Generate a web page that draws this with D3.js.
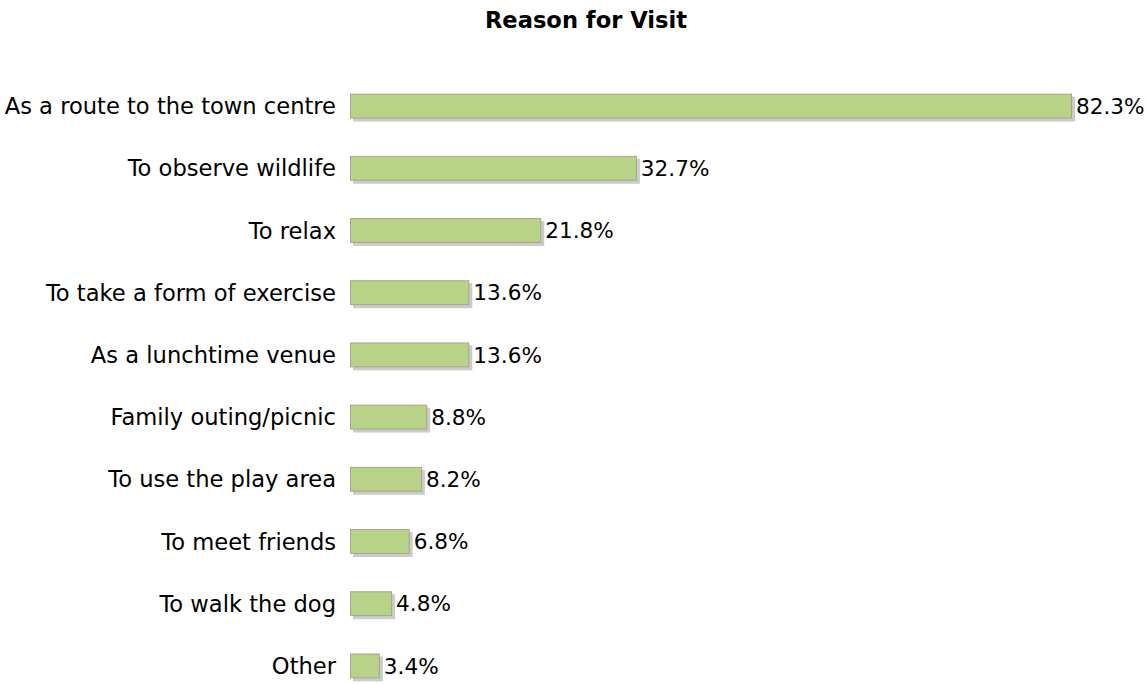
<!DOCTYPE html>
<html>
<head>
<meta charset="utf-8">
<script src="https://cdn.jsdelivr.net/npm/d3@7"></script>
<style>
  body { margin: 0; background: #fff; }
  text { font-family: "DejaVu Sans", "Open Sans", sans-serif; fill: #000; }
</style>
</head>
<body>
<div id="chart"></div>
<script>
var categories = ["As a route to the town centre", "To observe wildlife", "To relax",
    "To take a form of exercise", "As a lunchtime venue", "Family outing/picnic",
    "To use the play area", "To meet friends", "To walk the dog", "Other"];
var values = [82.3, 32.7, 21.8, 13.6, 13.6, 8.8, 8.2, 6.8, 4.8, 3.4];

var W = 1147, H = 684;
var margin = {top: 75, right: 75, bottom: 5, left: 350};

var svg = d3.select("#chart")
    .append("svg")
        .attr("width", W)
        .attr("height", H);

svg.append("text")
    .attr("x", 586)
    .attr("y", 28)
    .attr("text-anchor", "middle")
    .style("font-size", "22.6px")
    .style("font-weight", "bold")
    .text("Reason for Visit");

var x = d3.scaleLinear()
    .domain([0, 82.3])
    .range([margin.left, 1072]);

var y = d3.scaleBand()
    .domain(categories)
    .range([margin.top, 697])
    .paddingInner(0.6)
    .paddingOuter(0.3);

var data = categories.map(function (c, i) { return {name: c, value: values[i]}; });

var g = svg.append("g");

// drop shadow
g.selectAll(".shadow")
    .data(data)
    .enter()
    .append("rect")
    .attr("x", x(0) + 3)
    .attr("y", function (d) { return y(d.name) + 3; })
    .attr("width", function (d) { return x(d.value) - x(0); })
    .attr("height", y.bandwidth())
    .style("fill", "#cbcbcb");

g.selectAll(".bar")
    .data(data)
    .enter()
    .append("rect")
    .attr("x", x(0) + 0.5)
    .attr("y", function (d) { return y(d.name) + 0.5; })
    .attr("width", function (d) { return x(d.value) - x(0) - 1; })
    .attr("height", y.bandwidth() - 1)
    .style("fill", "#b8d387")
    .style("stroke", "#a8a48e")
    .style("stroke-width", 1);

g.selectAll(".val")
    .data(data)
    .enter()
    .append("text")
    .attr("x", function (d) { return x(d.value) + 4; })
    .attr("y", function (d) { return y(d.name) + y.bandwidth() / 2; })
    .attr("dy", "0.36em")
    .style("font-size", "21.6px")
    .text(function (d) { return d.value.toFixed(1) + "%"; });

g.selectAll(".cat")
    .data(data)
    .enter()
    .append("text")
    .attr("x", 336)
    .attr("y", function (d) { return y(d.name) + y.bandwidth() / 2; })
    .attr("dy", "0.36em")
    .attr("text-anchor", "end")
    .style("font-size", "22.6px")
    .text(function (d) { return d.name; });
</script>
</body>
</html>
